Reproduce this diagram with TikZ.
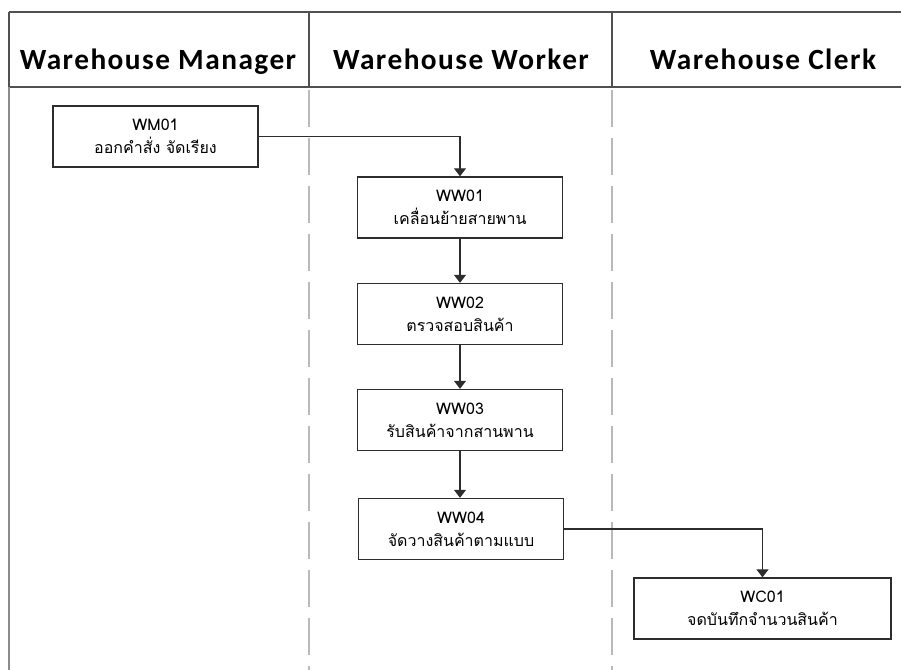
\documentclass[tikz,border=0pt]{standalone}
\usepackage{fontspec}
\setmainfont{Carlito}
\newfontfamily\thaifont[Script=Thai]{Loma}
\newfontfamily\headfont[LetterSpace=5]{Carlito}
\usetikzlibrary{positioning, arrows.meta}
\definecolor{FrameColor}{RGB}{80,80,80}
\definecolor{LaneColor}{RGB}{185,185,185}
\definecolor{BoxLine}{RGB}{45,45,45}

\tikzset{
  lanehead/.style={anchor=base, font=\headfont\bfseries\fontsize{22}{24}\selectfont},
  taskbox/.style={draw=BoxLine, line width=1pt, fill=white, minimum width=153.75pt, minimum height=45.75pt, inner sep=0pt, align=center, font=\thaifont\fontsize{12}{17}\selectfont},
  flow/.style={-{Triangle[width=9pt,length=6pt]}, line width=0.9pt, BoxLine}
}

\begin{document}
\begin{tikzpicture}[x=0.75pt, y=-0.75pt]
\useasboundingbox (0,0) rectangle (901,670);

% swimlanes
\draw[FrameColor, line width=1.3pt] (9,12) -- (901,12) (9,87) -- (901,87);
\draw[FrameColor, line width=1pt] (9,12) -- (9,87) (309,12) -- (309,87) (612,12) -- (612,87);
\draw[LaneColor!75!black, line width=1.3pt] (9,87) -- (9,670);
\draw[LaneColor, line width=1.3pt, dash pattern=on 28pt off 8pt] (309,90) -- (309,670) (612,90) -- (612,670);

\node[lanehead] (hmanager) at (158,70) {Warehouse Manager};
\node[lanehead] (hworker) at (461,70) {Warehouse Worker};
\node[lanehead] (hclerk) at (763,70) {Warehouse Clerk};

% tasks
\node[taskbox] (wm01) at (155.5,136.5) {WM01\\ออกคำสั่ง จัดเรียง};
\node[taskbox] (ww01) at (460,207.5) {WW01\\เคลื่อนย้ายสายพาน};
\node[taskbox] (ww02) at (460,314) {WW02\\ตรวจสอบสินค้า};
\node[taskbox] (ww03) at (460,420) {WW03\\รับสินค้าจากสานพาน};
\node[taskbox] (ww04) at (461,529) {WW04\\จัดวางสินค้าตามแบบ};
\node[taskbox, minimum width=192.75pt] (wc01) at (762.5,608.5) {WC01\\จดบันทึกจำนวนสินค้า};

\draw[flow] (wm01.east) -| (ww01.north);
\draw[flow] (ww01) -- (ww02);
\draw[flow] (ww02) -- (ww03);
\draw[flow] (ww03.south) -- (ww03.south |- ww04.north);
\draw[flow] (ww04.east) -| (wc01.north);
\end{tikzpicture}
\end{document}
